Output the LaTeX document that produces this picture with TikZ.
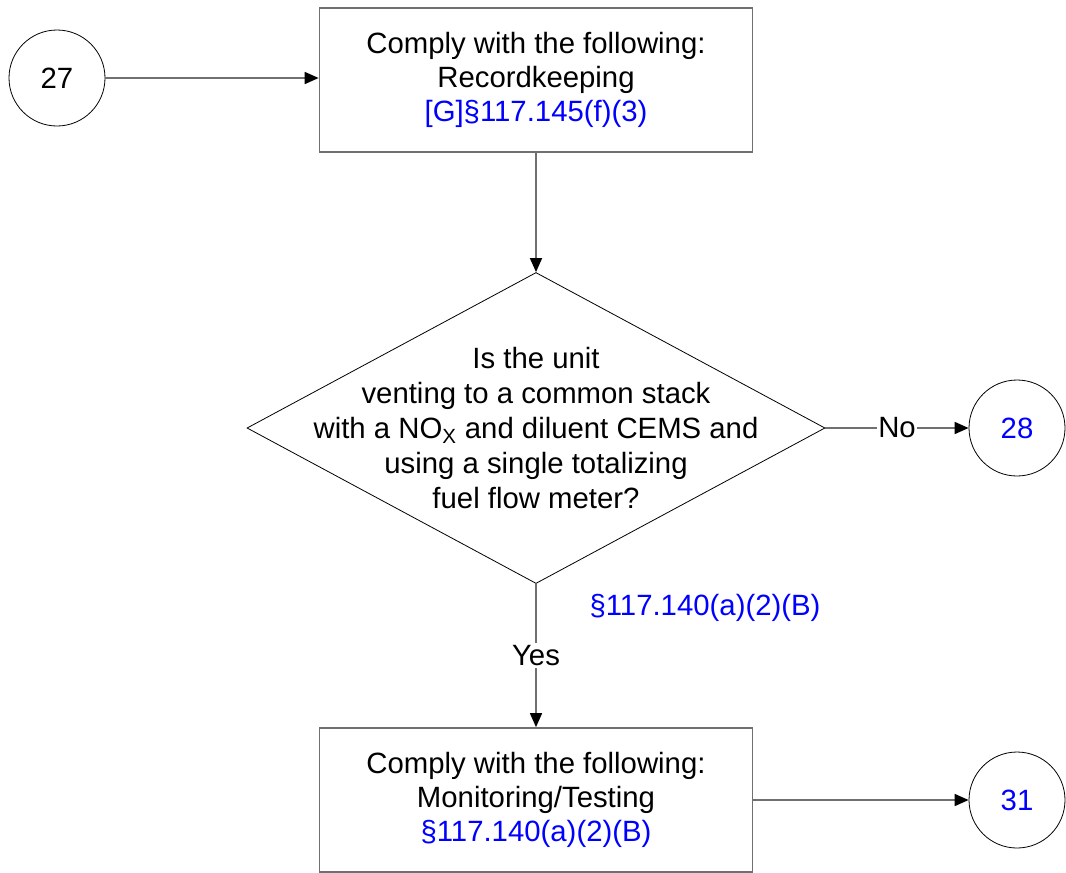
\documentclass[tikz,border=0pt]{standalone}
\usepackage{fontspec}
\setmainfont{Liberation Sans}
\usetikzlibrary{arrows.meta,shapes}
\definecolor{boxgray}{RGB}{112,112,112}
\definecolor{refblue}{RGB}{0,0,255}

\begin{document}
\begin{tikzpicture}[x=0.75pt,y=-0.75pt,
  font=\fontsize{22}{25.5}\selectfont,
  conn/.style={circle, draw, black, line width=0.6pt, minimum size=72pt, inner sep=0pt},
  procbox/.style={rectangle, draw=boxgray, line width=1.3pt, minimum width=324.75pt, minimum height=108pt, align=center},
  decision/.style={diamond, draw, black, line width=0.6pt, minimum width=433.5pt, minimum height=233.25pt, inner sep=0pt},
  flow/.style={draw=boxgray, line width=1.2pt, -{Triangle[length=10.5pt,width=9pt,color=black]}},
  ref/.style={text=refblue}]
\useasboundingbox (0,0) rectangle (1066,872);

\node[conn] (c27) at (57,78) {27};
\node[procbox] (rec) at (536,80) {Comply with the following:\\ Recordkeeping\\ \textcolor{refblue}{[G]§117.145(f)(3)}};
\node[decision] (dec) at (536,428) {};
\node[align=center, font=\fontsize{22}{26.3}\selectfont] (dectext) at (dec.center) {Is the unit\\ venting to a common stack\\ with a NO\textsubscript{X} and diluent CEMS and\\ using a single totalizing\\ fuel flow meter?};
\node[conn, text=refblue] (c28) at (1017,428) {28};
\node[ref] (yesref) at (705,608) {§117.140(a)(2)(B)};
\node[procbox] (mon) at (536,800) {Comply with the following:\\ Monitoring/Testing\\ \textcolor{refblue}{§117.140(a)(2)(B)}};
\node[conn, text=refblue] (c31) at (1017,800) {31};

\draw[flow] (c27.east) -- (c27.east -| rec.west);
\draw[flow] (rec.south) -- (dec.north);
\draw[flow] (dec.east) -- node[fill=white, inner sep=1pt] {No} (c28.west);
\draw[flow] (dec.south) -- node[fill=white, inner sep=2pt] {Yes} (mon.north);
\draw[flow] (mon.east) -- (c31.west);
\end{tikzpicture}
\end{document}
